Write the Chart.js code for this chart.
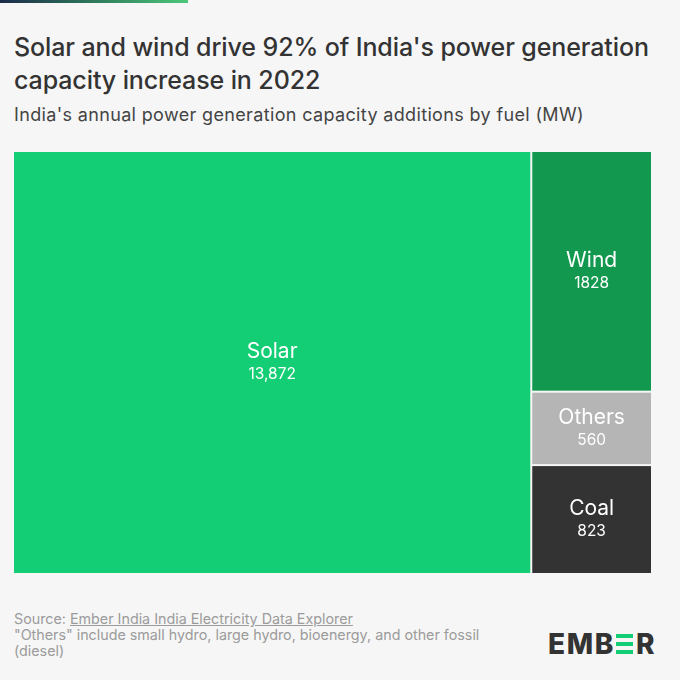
<!DOCTYPE html>
<html>
<head>
<meta charset="utf-8">
<script src="https://cdn.jsdelivr.net/npm/chart.js@4"></script>
<style>
  html, body { margin: 0; padding: 0; }
  body { width: 680px; height: 680px; background: #f6f6f6; position: relative; overflow: hidden; font-family: 'Inter', sans-serif; }
  .topbar { position: absolute; left: 0; top: 0; width: 188px; height: 3px; background: linear-gradient(90deg, #1b2a4a, #2f7a5c 50%, #4cc87a); }
  h1 { position: absolute; left: 14px; top: 31px; margin: 0; font-size: 25px; line-height: 33px; font-weight: 500; color: #333; letter-spacing: -0.1px; white-space: nowrap; }
  .sub { position: absolute; left: 14px; top: 104px; font-size: 18px; color: #444; letter-spacing: 0.35px; white-space: nowrap; }
  #wrap { position: absolute; left: 14px; top: 152px; width: 637px; height: 421px; }
  .foot { position: absolute; left: 14px; top: 611px; font-size: 14.3px; line-height: 16px; color: #9b9b9b; width: 500px; }
  .foot u { text-decoration: underline; }
  .logo { position: absolute; left: 548px; top: 627px; font-size: 28px; font-weight: 800; color: #333; letter-spacing: 1.6px; display: flex; align-items: center; }
  .bars { display: inline-flex; flex-direction: column; justify-content: space-between; height: 20px; width: 17px; margin: 0 3px 0 1px; }
  .bars i { display: block; height: 4px; background: #13ce74; }
</style>
</head>
<body>
<div class="topbar"></div>
<h1>Solar and wind drive 92% of India's power generation<br>capacity increase in 2022</h1>
<div class="sub">India's annual power generation capacity additions by fuel (MW)</div>
<div id="wrap"><canvas id="treemap" width="637" height="421"></canvas></div>
<div class="foot">Source: <u>Ember India India Electricity Data Explorer</u><br>"Others" include small hydro, large hydro, bioenergy, and other fossil (diesel)</div>
<div class="logo">EMB<span class="bars"><i></i><i></i><i></i></span>R</div>

<script>
// Capacity additions 2022 (MW)
const fuels = ['Solar', 'Wind', 'Others', 'Coal'];
const capacity = [13872, 1828, 560, 823];
const valueLabels = ['13,872', '1828', '560', '823'];
const fuelColors = ['#13ce74', '#13994f', '#b5b5b5', '#333333'];

const total = capacity.reduce((a, b) => a + b, 0);
const rest = total - capacity[0];

// Slice-and-dice layout in data units: Solar fills the left column,
// the others stack down the right column
function layoutCells() {
    const cells = [{ x0: 0, x1: capacity[0], y0: 0, y1: 1 }];
    let y = 1;
    for (let i = 1; i < capacity.length; i++) {
        const h = capacity[i] / rest;
        cells.push({ x0: capacity[0], x1: total, y0: y, y1: y - h });
        y -= h;
    }
    return cells;
}

const treemapPlugin = {
    id: 'treemapCells',
    afterDatasetsDraw(chart) {
        const { ctx, scales: { x, y } } = chart;
        const cells = layoutCells();
        ctx.save();
        cells.forEach((c, i) => {
            const left = x.getPixelForValue(c.x0);
            const right = x.getPixelForValue(c.x1);
            const top = y.getPixelForValue(Math.max(c.y0, c.y1));
            const bottom = y.getPixelForValue(Math.min(c.y0, c.y1));
            // 1px inset on shared edges leaves a 2px gap between cells
            const l = left + (c.x0 > 0 ? 1 : 0);
            const r = right - (c.x1 < total ? 1 : 0);
            const t = top + (Math.max(c.y0, c.y1) < 1 ? 1 : 0);
            const b = bottom - (Math.min(c.y0, c.y1) > 0.0001 ? 1 : 0);
            ctx.fillStyle = fuelColors[i];
            ctx.fillRect(l, t, r - l, b - t);

            const cx = (l + r) / 2;
            const cy = (t + b) / 2;
            ctx.fillStyle = '#ffffff';
            ctx.textAlign = 'center';
            ctx.textBaseline = 'middle';
            ctx.font = "400 21px 'Inter', sans-serif";
            ctx.fillText(fuels[i], cx, cy - 11);
            ctx.font = "400 15.5px 'Inter', sans-serif";
            ctx.fillText(valueLabels[i], cx, cy + 12);
        });
        ctx.restore();
    }
};

new Chart(document.getElementById('treemap'), {
    type: 'scatter',
    data: { datasets: [{ data: [], label: 'capacity' }] },
    options: {
        responsive: false,
        animation: false,
        layout: { padding: 0 },
        plugins: { legend: { display: false }, tooltip: { enabled: false } },
        scales: {
            x: { type: 'linear', min: 0, max: total, display: false },
            y: { type: 'linear', min: 0, max: 1, display: false }
        }
    },
    plugins: [treemapPlugin]
});
</script>
</body>
</html>
